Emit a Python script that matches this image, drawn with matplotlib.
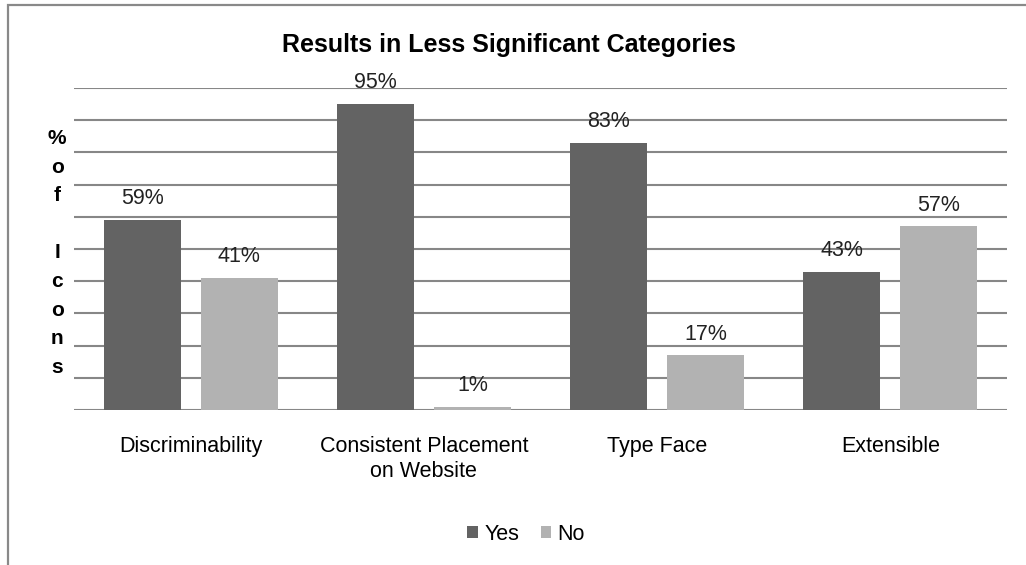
import matplotlib.pyplot as plt
import numpy as np
from matplotlib.patches import Rectangle

plt.rcParams['font.family'] = ['Liberation Sans', 'DejaVu Sans']

categories = ['Discriminability', 'Consistent Placement\non Website', 'Type Face', 'Extensible']
yes_vals = [59, 95, 83, 43]
no_vals = [41, 1, 17, 57]

W, H = 1026, 565
fig = plt.figure(figsize=(W / 100, H / 100), dpi=100)
ax = fig.add_axes([74 / W, 1 - 410 / H, (1007 - 74) / W, (410 - 88) / H])

x = np.arange(len(categories))
bw = 0.33
off = 0.208
b1 = ax.bar(x - off, yes_vals, bw, color='#636363', label='Yes', zorder=3)
b2 = ax.bar(x + off, no_vals, bw, color='#b2b2b2', label='No', zorder=3)

for bars, vals in ((b1, yes_vals), (b2, no_vals)):
    for b, v in zip(bars, vals):
        ax.text(b.get_x() + b.get_width() / 2, v + 3.3, f'{v}%', ha='center', va='bottom',
                fontsize=15.5, color='#222222')

ax.set_xlim(-0.5, 3.5)
ax.set_ylim(0, 100)
ax.set_yticks(np.arange(0, 101, 10))
ax.set_yticklabels([])
ax.tick_params(axis='y', length=0)
ax.tick_params(axis='x', length=0, pad=19, labelsize=15.5)
ax.set_xticks(x)
ax.set_xticklabels(categories, linespacing=1.2)
ax.grid(axis='y', color='#878787', linewidth=1.5, zorder=0)
for s in ax.spines.values():
    s.set_visible(False)

fig.text(509 / W, 1 - 45 / H, 'Results in Less Significant Categories', fontsize=18,
         fontweight='bold', ha='center', va='center')
ax.set_ylabel('%\no\nf\n\nI\nc\no\nn\ns', rotation=0, fontsize=15, fontweight='bold',
              linespacing=1.64, va='center', ha='center')
ax.yaxis.set_label_coords(-0.018, 0.488)

fig.legend(loc='center', bbox_to_anchor=(526 / W, 1 - 534 / H), ncol=2, frameon=False,
           fontsize=15.5, handlelength=0.5, handleheight=0.5, handletextpad=0.3, columnspacing=1.0)

fig.add_artist(Rectangle((8 / W, -0.1), 1.2, 1 - 5 / H + 0.1, transform=fig.transFigure,
                         fill=False, edgecolor='#898989', linewidth=1.6))

fig.savefig('out.png', dpi=100)
